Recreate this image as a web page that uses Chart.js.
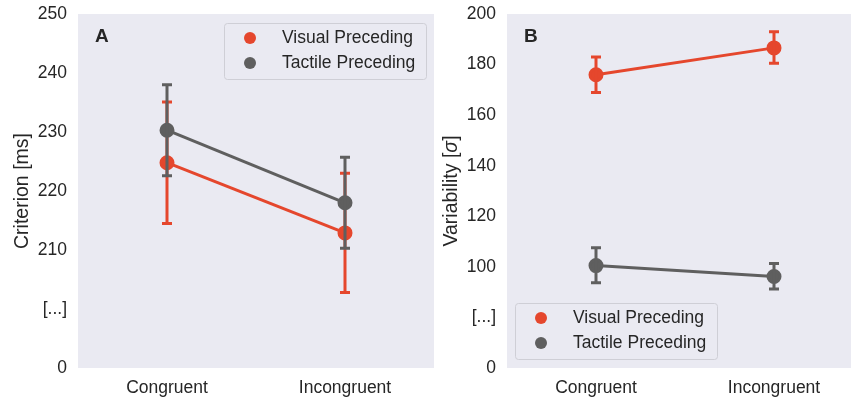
<!DOCTYPE html>
<html lang="en">
<head>
    <meta charset="UTF-8">
    <title>Criterion and Variability</title>
    <script src="https://cdn.jsdelivr.net/npm/chart.js"></script>
    <style>
        html, body { margin: 0; padding: 0; background: #fff; overflow: hidden; }
        .wrap { position: relative; width: 851px; height: 399px; overflow: hidden; }
        .panel { position: absolute; top: 0; height: 399px; }
        #panelA { left: 0; width: 434px; }
        #panelB { left: 430px; width: 433px; }
    </style>
</head>
<body>
    <div class="wrap">
        <div class="panel" id="panelA"><canvas id="chartA"></canvas></div>
        <div class="panel" id="panelB"><canvas id="chartB"></canvas></div>
    </div>

    <script>
        const categories = ['Congruent', 'Incongruent'];
        const seriesNames = ['Visual Preceding', 'Tactile Preceding'];

        // panel A: criterion [ms]
        const criterionVisual = [224.8, 212.9];
        const criterionVisualLow = [214.5, 202.8];
        const criterionVisualHigh = [235.1, 223.0];
        const criterionTactile = [230.3, 218.0];
        const criterionTactileLow = [222.6, 210.3];
        const criterionTactileHigh = [238.0, 225.7];
        const criterionTicks = ['0', '[...]', '210', '220', '230', '240', '250'];

        // panel B: variability [sigma]
        const variabilityVisual = [176.0, 186.6];
        const variabilityVisualLow = [169.0, 180.5];
        const variabilityVisualHigh = [183.0, 193.0];
        const variabilityTactile = [100.5, 96.2];
        const variabilityTactileLow = [93.7, 91.2];
        const variabilityTactileHigh = [107.6, 101.3];
        const variabilityTicks = ['0', '[...]', '100', '120', '140', '160', '180', '200'];

        const red = '#e5472d';
        const grey = '#5f5f5f';
        const textColor = '#262626';
        const fontFamily = '"Liberation Sans", Arial, Helvetica, sans-serif';

        // vertical error bars with caps, drawn right after each line
        const errorBars = {
            id: 'errorBars',
            afterDatasetDraw(chart, args) {
                const ds = chart.data.datasets[args.index];
                if (!ds.low) return;
                const ctx = chart.ctx;
                const x = chart.scales.x, y = chart.scales.y;
                ctx.save();
                ctx.strokeStyle = ds.borderColor;
                ctx.lineWidth = 3;
                ctx.lineCap = 'butt';
                ds.data.forEach((v, i) => {
                    const px = x.getPixelForValue(i);
                    const top = y.getPixelForValue(ds.high[i]);
                    const bot = y.getPixelForValue(ds.low[i]);
                    ctx.beginPath();
                    ctx.moveTo(px, top); ctx.lineTo(px, bot);
                    ctx.moveTo(px - 5, top); ctx.lineTo(px + 5, top);
                    ctx.moveTo(px - 5, bot); ctx.lineTo(px + 5, bot);
                    ctx.stroke();
                });
                ctx.restore();
            }
        };

        // plot background, y title (with italic parts), panel letter and legend box
        const decor = {
            id: 'decor',
            beforeDraw(chart) {
                const a = chart.chartArea, ctx = chart.ctx;
                ctx.save();
                ctx.fillStyle = '#eaeaf2';
                ctx.fillRect(a.left, a.top, a.right - a.left, a.bottom - a.top);
                ctx.restore();
            },
            afterDraw(chart, args, opts) {
                const a = chart.chartArea, ctx = chart.ctx;
                ctx.save();
                ctx.fillStyle = textColor;
                ctx.textBaseline = 'middle';

                // y axis title
                const fonts = opts.title.map(p => (p.italic ? 'italic ' : '') + '19.5px ' + fontFamily);
                let total = 0;
                opts.title.forEach((p, i) => { ctx.font = fonts[i]; total += ctx.measureText(p.text).width; });
                ctx.save();
                ctx.translate(opts.titleX, (a.top + a.bottom) / 2);
                ctx.rotate(-Math.PI / 2);
                let tx = -total / 2;
                opts.title.forEach((p, i) => {
                    ctx.font = fonts[i];
                    ctx.fillText(p.text, tx, 0);
                    tx += ctx.measureText(p.text).width;
                });
                ctx.restore();

                ctx.font = 'bold 19px ' + fontFamily;
                ctx.fillText(opts.letter, a.left + 17, a.top + 23);

                const bx = a.left + opts.legendX, by = a.top + opts.legendY;
                ctx.fillStyle = 'rgba(234,234,242,0.85)';
                ctx.strokeStyle = '#cfcfd6';
                ctx.lineWidth = 1;
                ctx.beginPath();
                ctx.roundRect(bx + 0.5, by + 0.5, 202, 56, 3);
                ctx.fill();
                ctx.stroke();
                ctx.font = '17.5px ' + fontFamily;
                chart.data.datasets.forEach((ds, i) => {
                    const cy = by + 15 + i * 25;
                    ctx.fillStyle = ds.borderColor;
                    ctx.beginPath();
                    ctx.arc(bx + 26, cy, 6, 0, Math.PI * 2);
                    ctx.fill();
                    ctx.fillStyle = textColor;
                    ctx.fillText(ds.label, bx + 58, cy);
                });
                ctx.restore();
            }
        };

        function makeChart(id, sets, yMin, yMax, step, tickLabels, title, yWidth, titleX, letter, legendX, legendY) {
            const datasets = sets.map((s, i) => ({
                label: seriesNames[i],
                data: s.mean,
                low: s.low,
                high: s.high,
                borderColor: i === 0 ? red : grey,
                backgroundColor: i === 0 ? red : grey,
                borderWidth: 3,
                pointRadius: 6,
                pointHoverRadius: 6,
                order: i === 0 ? 1 : 0
            }));
            return new Chart(document.getElementById(id), {
                type: 'line',
                data: { labels: categories, datasets: datasets },
                plugins: [errorBars, decor],
                options: {
                    responsive: true,
                    maintainAspectRatio: false,
                    animation: false,
                    layout: { autoPadding: false, padding: { top: 14, left: 0, right: 0, bottom: 0 } },
                    plugins: {
                        legend: { display: false },
                        tooltip: { enabled: false },
                        decor: { letter: letter, legendX: legendX, legendY: legendY, title: title, titleX: titleX }
                    },
                    scales: {
                        x: {
                            offset: true,
                            grid: { display: false, drawTicks: false },
                            border: { display: false },
                            ticks: { color: textColor, font: { family: fontFamily, size: 17.5 }, padding: 10 },
                            afterFit(scale) {
                                scale.height = 31;
                                scale.paddingLeft = 0; scale.paddingRight = 0;
                            }
                        },
                        y: {
                            min: yMin, max: yMax,
                            grid: { display: false, drawTicks: false },
                            border: { display: false },
                            ticks: {
                                stepSize: step,
                                color: textColor,
                                font: { family: fontFamily, size: 17.5 },
                                padding: 11,
                                callback: (v) => tickLabels[Math.round((v - yMin) / step)]
                            },
                            afterFit(scale) {
                                scale.width = yWidth;
                                scale.paddingTop = 0; scale.paddingBottom = 0;
                            }
                        }
                    }
                }
            });
        }

        makeChart('chartA', [
            { mean: criterionVisual, low: criterionVisualLow, high: criterionVisualHigh },
            { mean: criterionTactile, low: criterionTactileLow, high: criterionTactileHigh }
        ], 190, 250, 10, criterionTicks, [{ text: 'Criterion [ms]' }], 78, 23, 'A', 146, 9);

        makeChart('chartB', [
            { mean: variabilityVisual, low: variabilityVisualLow, high: variabilityVisualHigh },
            { mean: variabilityTactile, low: variabilityTactileLow, high: variabilityTactileHigh }
        ], 60, 200, 20, variabilityTicks,
            [{ text: 'Variability [' }, { text: 'σ', italic: true }, { text: ']' }], 77, 22, 'B', 8, 289);
    </script>
</body>
</html>
